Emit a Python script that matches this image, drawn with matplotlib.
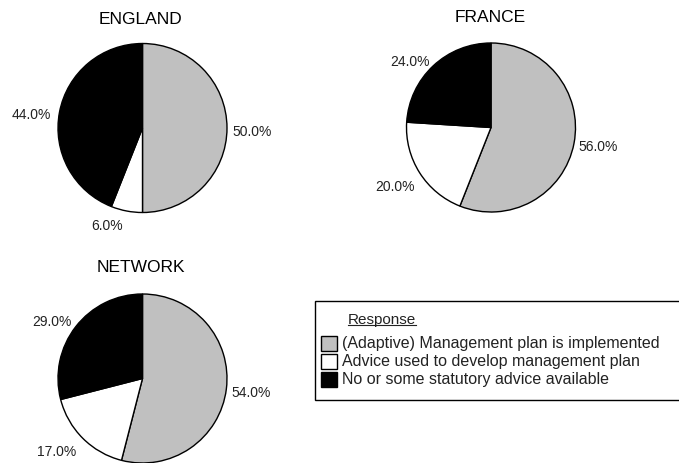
import matplotlib
matplotlib.use('Agg')
import matplotlib.pyplot as plt
from matplotlib.patches import Rectangle

plt.rcParams['font.family'] = ['Liberation Sans', 'DejaVu Sans']

# data
regions = ['ENGLAND', 'FRANCE', 'NETWORK']
responses = ['(Adaptive) Management plan is implemented',
             'Advice used to develop management plan',
             'No or some statutory advice available']
england = [50, 6, 44]
france = [56, 20, 24]
network = [54, 17, 29]
colors = ['#c0c0c0', '#ffffff', '#000000']

# layout (pixel coords, y from top)
W, H = 679, 464
pie_centers = [(142.5, 129), (491, 128.5), (142.5, 379.5)]
pie_radius = 84.5
title_pos = [(140, 19), (490, 18), (141, 268)]
label_pos = [
    [(252, 132), (107, 226), (31, 115)],
    [(598, 147), (395, 187), (410, 62)],
    [(251, 393), (57, 452), (52, 322)],
]

fig = plt.figure(figsize=(W / 100, H / 100), dpi=100)
ax = fig.add_axes([0, 0, 1, 1])

for vals, c, tp, lp, name in zip([england, france, network], pie_centers,
                                 title_pos, label_pos, regions):
    ax.pie(vals, colors=colors, startangle=90, counterclock=False,
           center=(c[0], H - c[1]), radius=pie_radius,
           wedgeprops=dict(edgecolor='black', linewidth=1.0))
    ax.text(tp[0], H - tp[1], name, ha='center', va='center', fontsize=12.5)
    for v, p in zip(vals, lp):
        ax.text(p[0], H - p[1], f'{v:.1f}%', ha='center', va='center',
                fontsize=10, color='#222222')

ax.set_xlim(0, W)
ax.set_ylim(0, H)
ax.set_aspect('equal')
ax.axis('off')

# legend box
ax.add_patch(Rectangle((315, H - 401), 420, 99, facecolor='white',
                       edgecolor='black', linewidth=1.0, zorder=3))
t = ax.text(348, H - 320, 'Response', ha='left', va='center', fontsize=11,
            color='#222222', zorder=4)
row_y = [344, 362, 380]
for lab, col, y in zip(responses, colors, row_y):
    ax.add_patch(Rectangle((321, H - y - 7.5), 16, 15, facecolor=col,
                           edgecolor='black', linewidth=1.0, zorder=4))
    ax.text(342, H - y, lab, ha='left', va='center', fontsize=11.5,
            color='#222222', zorder=4)

fig.canvas.draw()
bb = t.get_window_extent().transformed(ax.transData.inverted())
ax.plot([bb.x0, bb.x1], [bb.y0 + 1, bb.y0 + 1], color='#222222',
        linewidth=0.8, zorder=4)

fig.savefig('out.png', dpi=100)
